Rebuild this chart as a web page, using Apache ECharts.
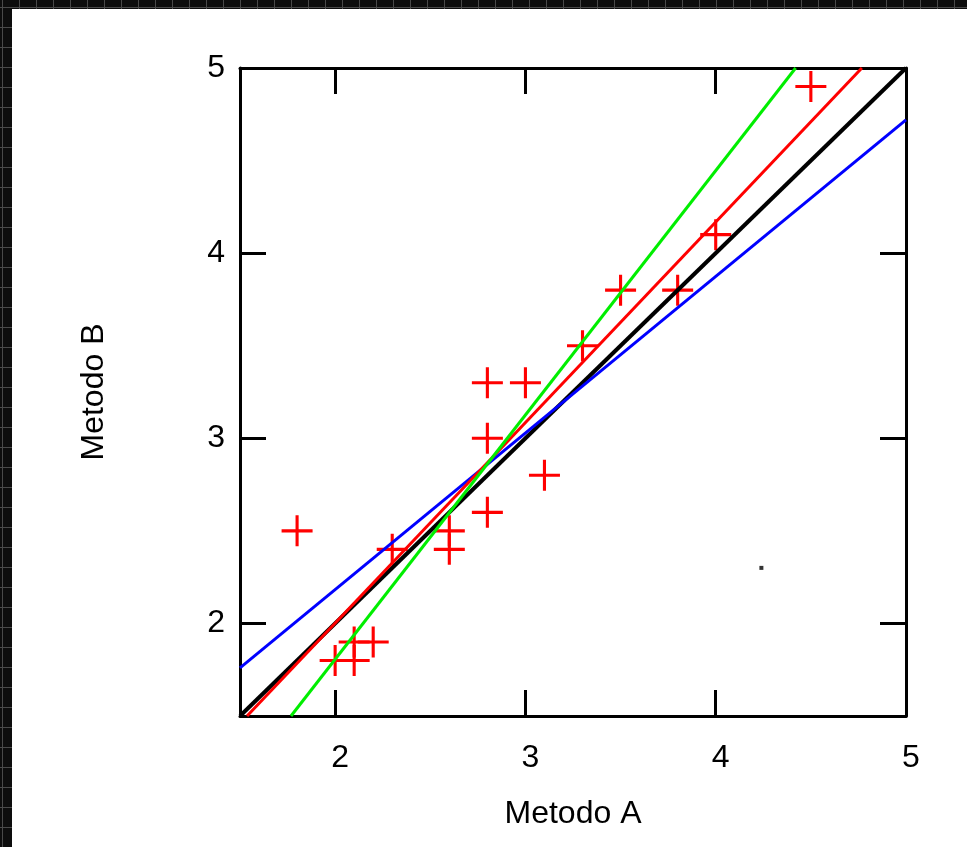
<!DOCTYPE html>
<html>
<head>
<meta charset="utf-8">
<script src="https://cdn.jsdelivr.net/npm/echarts@6/dist/echarts.min.js"></script>
<style>
html,body{margin:0;padding:0;width:967px;height:847px;overflow:hidden;}
body{
  background-color:#0d0d0d;
  background-image:
    repeating-linear-gradient(90deg, transparent 0, transparent 2px, #4a4a4a 2px, #4a4a4a 3px, transparent 3px, transparent 17px),
    repeating-linear-gradient(0deg, transparent 0, transparent 19px, #4a4a4a 19px, #4a4a4a 20px);
  position:relative;
}
#chart{position:absolute;left:12px;top:9px;width:955px;height:838px;background:#ffffff;}
</style>
</head>
<body>
<div id="chart"></div>
<script>
// Data
var methodA = [1.8, 2.0, 2.1, 2.1, 2.2, 2.3, 2.6, 2.6, 2.8, 2.8, 2.8, 3.0, 3.1, 3.3, 3.5, 3.8, 4.0, 4.5];
var methodB = [2.5, 1.8, 1.8, 1.9, 1.9, 2.4, 2.5, 2.4, 2.6, 3.0, 3.3, 3.3, 2.8, 3.5, 3.8, 3.8, 4.1, 4.9];
var strayDot = [[4.24, 2.30]];
var identityLine = [[1.5, 1.5], [5, 5]];
var redLine = [[1.537, 1.5], [4.768, 5]];
var greenLine = [[1.768, 1.5], [4.42, 5]];
var blueLine = [[1.5, 1.76], [5, 4.72]];
var tickValues = [2, 3, 4, 5];
var xTitle = 'Metodo A';
var yTitle = 'Metodo B';

var points = methodA.map(function (a, i) { return [a, methodB[i]]; });
var plusPath = 'path://M13.5,0h3v13.5h13.5v3h-13.5v13.5h-3v-13.5h-13.5v-3h13.5z';
var font = 'Liberation Sans, Arial, sans-serif';

function axisBase(extra) {
  var base = {
    type: 'value',
    min: 1.5,
    max: 5,
    splitLine: { show: false },
    axisLine: { show: true, onZero: false, lineStyle: { color: '#000', width: 3 } },
    axisTick: { show: true, inside: true, length: 26, customValues: [2, 3, 4], lineStyle: { color: '#000', width: 3 } },
    axisLabel: { show: false }
  };
  for (var k in extra) base[k] = extra[k];
  return base;
}

var chart = echarts.init(document.getElementById('chart'), null, { renderer: 'canvas' });
chart.setOption({
  animation: false,
  backgroundColor: '#ffffff',
  grid: { left: 228, top: 59, width: 666, height: 648, containLabel: false },
  xAxis: [
    axisBase({
      position: 'bottom',
      name: xTitle,
      nameLocation: 'middle',
      nameGap: 82,
      nameTextStyle: { fontFamily: font, fontSize: 32, color: '#000' },
      axisLabel: { show: true, customValues: tickValues, margin: 26, fontFamily: font, fontSize: 32, color: '#000', padding: [0, 0, 0, 10] }
    }),
    axisBase({ position: 'top' })
  ],
  yAxis: [
    axisBase({
      position: 'left',
      name: yTitle,
      nameLocation: 'middle',
      nameGap: 130,
      nameRotate: 90,
      nameTextStyle: { fontFamily: font, fontSize: 32, color: '#000' },
      axisLabel: { show: true, customValues: tickValues, margin: 15, fontFamily: font, fontSize: 32, color: '#000' }
    }),
    axisBase({ position: 'right' })
  ],
  series: [
    {
      type: 'scatter',
      data: points,
      symbol: plusPath,
      symbolSize: 31,
      symbolKeepAspect: true,
      itemStyle: { color: '#ff0000', opacity: 1 },
      z: 2
    },
    {
      type: 'scatter',
      data: strayDot,
      symbol: 'rect',
      symbolSize: 4,
      itemStyle: { color: '#000' },
      z: 2
    },
    {
      type: 'line', data: identityLine, showSymbol: false, clip: true,
      lineStyle: { color: '#000000', width: 4 }, z: 3
    },
    {
      type: 'line', data: blueLine, showSymbol: false, clip: true,
      lineStyle: { color: '#0000ff', width: 3 }, z: 3
    },
    {
      type: 'line', data: redLine, showSymbol: false, clip: true,
      lineStyle: { color: '#ff0000', width: 3 }, z: 3
    },
    {
      type: 'line', data: greenLine, showSymbol: false, clip: true,
      lineStyle: { color: '#00ee00', width: 3 }, z: 3
    }
  ]
});
</script>
</body>
</html>
